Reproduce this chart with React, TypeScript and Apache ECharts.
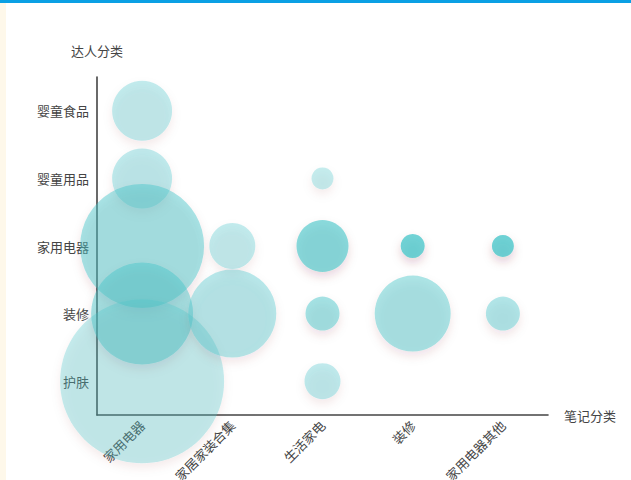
import React, { useEffect, useRef } from "react";
import * as echarts from "echarts";

const noteCategories = ["家用电器", "家居家装合集", "生活家电", "装修", "家用电器其他"];
const talentCategories = ["护肤", "装修", "家用电器", "婴童用品", "婴童食品"];

// [笔记分类, 达人分类, bubble radius value, intensity]
const bubbles: [string, string, number, number][] = [
  ["家用电器", "婴童食品", 30, 0.4],
  ["家用电器", "婴童用品", 30, 0.42],
  ["家用电器", "家用电器", 62, 0.58],
  ["家用电器", "装修", 51, 0.58],
  ["家用电器", "护肤", 82, 0.38],
  ["家居家装合集", "家用电器", 23, 0.4],
  ["家居家装合集", "装修", 44, 0.47],
  ["生活家电", "婴童用品", 11, 0.38],
  ["生活家电", "家用电器", 26, 0.78],
  ["生活家电", "装修", 17, 0.6],
  ["生活家电", "护肤", 18, 0.42],
  ["装修", "家用电器", 12, 0.95],
  ["装修", "装修", 38, 0.55],
  ["家用电器其他", "家用电器", 11, 0.97],
  ["家用电器其他", "装修", 17, 0.52],
];

const FONT = "'Noto Sans CJK SC', 'Noto Sans', sans-serif";

export default function App() {
  const ref = useRef<HTMLDivElement>(null);
  useEffect(() => {
    if (!ref.current) return;
    const chart = echarts.init(ref.current, undefined, { renderer: "svg" });
    chart.setOption({
      animation: false,
      textStyle: { fontFamily: FONT },
      grid: { left: 97, right: 83, top: 77, bottom: 65, containLabel: false, outerBoundsMode: "none" },
      xAxis: {
        type: "category",
        data: noteCategories,
        name: "笔记分类",
        nameGap: 16,
        nameTextStyle: { color: "#444", fontSize: 13, fontFamily: FONT },
        axisLine: { lineStyle: { color: "#444", width: 1.6 } },
        axisTick: { lineStyle: { color: "#444", width: 1.2 }, length: 4 },
        axisLabel: { rotate: 45, color: "#444", fontSize: 13, margin: 8, fontFamily: FONT },
        splitLine: { show: false },
      },
      yAxis: {
        type: "category",
        data: talentCategories,
        name: "达人分类",
        nameGap: 20,
        nameTextStyle: { color: "#444", fontSize: 13, fontFamily: FONT },
        axisLine: { lineStyle: { color: "#444", width: 1.6 } },
        axisTick: { lineStyle: { color: "#444", width: 1.2 }, length: 4 },
        axisLabel: { color: "#444", fontSize: 13, margin: 8, fontFamily: FONT },
        splitLine: { show: false },
      },
      series: [
        {
          type: "scatter",
          data: bubbles,
          symbolSize: (d: any) => d[2] * 2,
          itemStyle: {
            color: (p: any) => `rgba(69,197,201,${p.data[3]})`,
            shadowBlur: 10,
            shadowColor: "rgba(120,36,50,0.25)",
            shadowOffsetY: 5,
          },
        },
      ],
    });
    return () => chart.dispose();
  }, []);
  return (
    <div style={{ position: "fixed", left: 0, top: 0, width: 631, height: 480, background: "#fff", overflow: "hidden" }}>
      <div style={{ position: "absolute", left: 0, top: 0, width: 631, height: 3, background: "#0aa0e4" }} />
      <div style={{ position: "absolute", left: 0, top: 3, width: 6, height: 477, background: "#fef8ea" }} />
      <div ref={ref} style={{ position: "absolute", left: 0, top: 0, width: 631, height: 480 }} />
    </div>
  );
}
